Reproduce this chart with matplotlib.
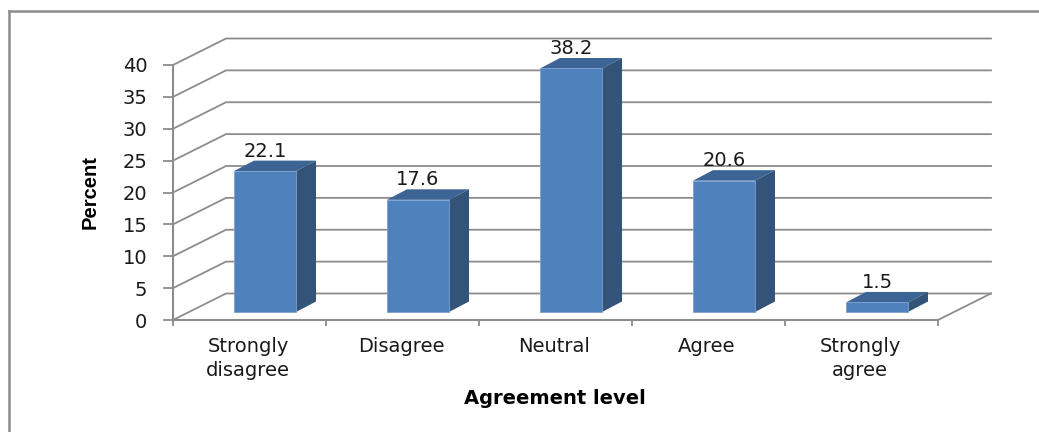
import numpy as np
import matplotlib
matplotlib.use("Agg")
import matplotlib.pyplot as plt
from matplotlib.patches import Polygon

categories = ["Strongly\ndisagree", "Disagree", "Neutral", "Agree", "Strongly\nagree"]
percent = [22.1, 17.6, 38.2, 20.6, 1.5]
y_ticks = [0, 5, 10, 15, 20, 25, 30, 35, 40]

W, H = 1039, 432
GREY = "#8c8c8c"
TXT = "#1a1a1a"
plt.rcParams["font.family"] = "DejaVu Sans"

fig = plt.figure(figsize=(W / 100, H / 100), dpi=100)
# front plane of the fake 3d box, in pixels
left, right, top, bottom = 173, 938, 65, 320
ax = fig.add_axes([left / W, 1 - bottom / H, (right - left) / W, (bottom - top) / H])
ax.set_xlim(-0.5, 4.5)
ax.set_ylim(0, 40)
ax.patch.set_alpha(0)

# pixel sizes to data units
px_x = 5 / (right - left)
px_y = 40 / (bottom - top)
wall_dx, wall_dy = 53 * px_x, 26.5 * px_y
depth_dx, depth_dy = 20 * px_x, 10.5 * px_y
bar_w = 62 * px_x
bar_base = 8 * px_y

for t in y_ticks:
    ax.plot([-0.5, -0.5 + wall_dx, 4.5 + wall_dx], [t, t + wall_dy, t + wall_dy],
            color=GREY, lw=1.3, clip_on=False, zorder=1)
ax.plot([4.5, 4.5 + wall_dx], [0, wall_dy], color=GREY, lw=1.3, clip_on=False, zorder=1)

ax.spines[["top", "right"]].set_visible(False)
ax.spines[["left", "bottom"]].set_color(GREY)
ax.spines[["left", "bottom"]].set_linewidth(1.5)
ax.set_yticks(y_ticks)
ax.set_xticks(np.arange(-0.5, 5, 1))
ax.set_xticklabels([])
ax.tick_params(axis="x", color=GREY, width=1.3, length=4)
ax.tick_params(axis="y", color=GREY, width=1.3, length=7.5, labelsize=14, labelcolor=TXT, pad=11)

for i, v in enumerate(percent):
    x0 = i - 0.5 + (61 * px_x)
    x1 = x0 + bar_w
    y1 = bar_base + v
    ax.bar(x0, v, width=bar_w, bottom=bar_base, align="edge", color="#4f81bd",
           edgecolor="#7ba0d0", lw=0.6, zorder=4)
    ax.add_patch(Polygon([(x0, y1), (x0 + depth_dx, y1 + depth_dy),
                          (x1 + depth_dx, y1 + depth_dy), (x1, y1)],
                         closed=True, fc="#3c6494", ec="none", zorder=3, clip_on=False))
    ax.add_patch(Polygon([(x1, bar_base), (x1 + depth_dx, bar_base + depth_dy),
                          (x1 + depth_dx, y1 + depth_dy), (x1, y1)],
                         closed=True, fc="#335379", ec="none", zorder=3, clip_on=False))
    ax.text(x0 + bar_w / 2, y1 + depth_dy + 4 * px_y, f"{v}", ha="center", va="baseline",
            fontsize=14, color=TXT, zorder=5, clip_on=False)
    ax.text(i - 1.5 * px_x, -17 * px_y, categories[i], ha="center", va="top", fontsize=14,
            color=TXT, linespacing=1.32, clip_on=False)

fig.text(90 / W, 1 - 192 / H, "Percent", rotation=90, ha="center", va="center",
         fontsize=14.5, fontweight="bold", family=["Liberation Sans Narrow", "Liberation Sans"],
         color="black")
fig.text(555 / W, 1 - 399 / H, "Agreement level", ha="center", va="center",
         fontsize=14, fontweight="bold", color="black")

# outer chart frame
fig.add_artist(plt.Line2D([9 / W, 9 / W], [0, 1 - 11 / H], color=GREY, lw=1.8))
fig.add_artist(plt.Line2D([9 / W, 1], [1 - 11 / H, 1 - 11 / H], color=GREY, lw=1.8))

fig.savefig("out.png", dpi=100)
